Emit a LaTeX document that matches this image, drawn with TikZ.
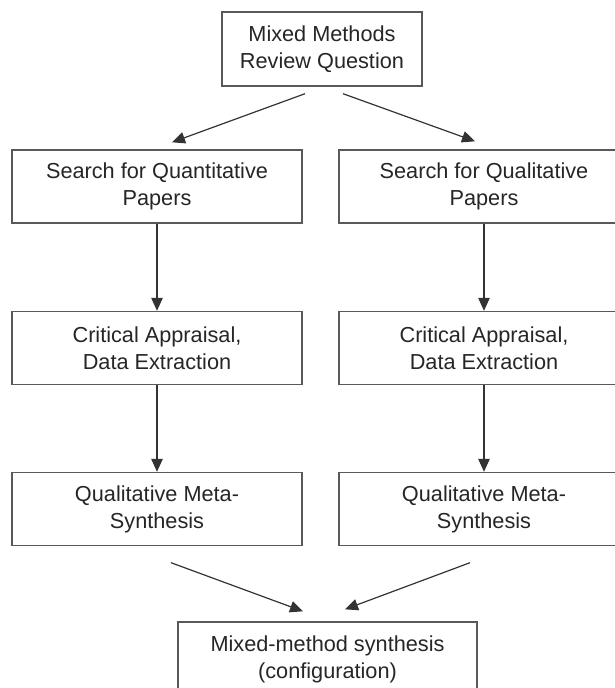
\documentclass[tikz,border=0pt]{standalone}
\usepackage{fontspec}
\setmainfont{Liberation Sans}
\usetikzlibrary{positioning,arrows.meta}
\tikzstyle{hdr}=[draw=black!65, fill=white, minimum height = 74pt, minimum width=200pt, line width=1.4pt, align=center, text=black!85, font=\fontsize{21.7}{27}\selectfont]
\tikzstyle{blk}=[draw=black!65, fill=white, minimum height = 73pt, minimum width=290pt, line width=1.4pt, align=center, text=black!85, font=\fontsize{21.7}{27}\selectfont]
\tikzstyle{fin}=[draw=black!65, fill=white, minimum height = 74pt, minimum width=299pt, line width=1.4pt, align=center, text=black!85, font=\fontsize{21.7}{27}\selectfont]
\begin{document}
\begin{tikzpicture}[x=1pt,y=1pt,>={Triangle[length=13pt,width=11.5pt]}]
\useasboundingbox (0,0) rectangle (615,-688);
  \node[hdr] at (322,-49) (question) {Mixed Methods\\Review Question};

  \node[blk] at (157,-186.5) (quant) {Search for Quantitative\\Papers};
  \node[blk, right of = quant, node distance = 327pt] (qual) {Search for Qualitative\\Papers};

  \node[blk, below of = quant, node distance = 161.5pt] (apprL) {Critical Appraisal,\\Data Extraction};
  \node[blk, below of = qual, node distance = 161.5pt] (apprR) {Critical Appraisal,\\Data Extraction};
\draw[->,line width = 1.2pt, black!80] (quant) -- (apprL);
\draw[->,line width = 1.2pt, black!80] (qual) -- (apprR);

  \node[blk, below of = apprL, node distance = 161pt] (metaL) {Qualitative Meta-\\Synthesis};
  \node[blk, below of = apprR, node distance = 161pt] (metaR) {Qualitative Meta-\\Synthesis};
\draw[->,line width = 1.2pt, black!80] (apprL) -- (metaL);
\draw[->,line width = 1.2pt, black!80] (apprR) -- (metaR);

  \node[fin] at (327.5,-659) (mixed) {Mixed-method synthesis\\(configuration)};

% split from the question
\coordinate (qL) at ([xshift=-17pt,yshift=-7pt]question.south);
\coordinate (qR) at ([xshift=21pt,yshift=-7pt]question.south);
\coordinate (inL) at ([xshift=15pt,yshift=7pt]quant.north);
\coordinate (inR) at ([xshift=-9pt,yshift=8pt]qual.north);
\draw[->,line width = 1.2pt, black!80] (qL) -- (inL);
\draw[->,line width = 1.2pt, black!80] (qR) -- (inR);

% merge into the synthesis
\coordinate (mL) at ([xshift=14pt,yshift=-16.5pt]metaL.south);
\coordinate (mR) at ([xshift=-14pt,yshift=-16.5pt]metaR.south);
\coordinate (outL) at ([xshift=-24.5pt,yshift=10pt]mixed.north);
\coordinate (outR) at ([xshift=17.5pt,yshift=12pt]mixed.north);
\draw[->,line width = 1.2pt, black!80] (mL) -- (outL);
\draw[->,line width = 1.2pt, black!80] (mR) -- (outR);
\end{tikzpicture}
\end{document}
